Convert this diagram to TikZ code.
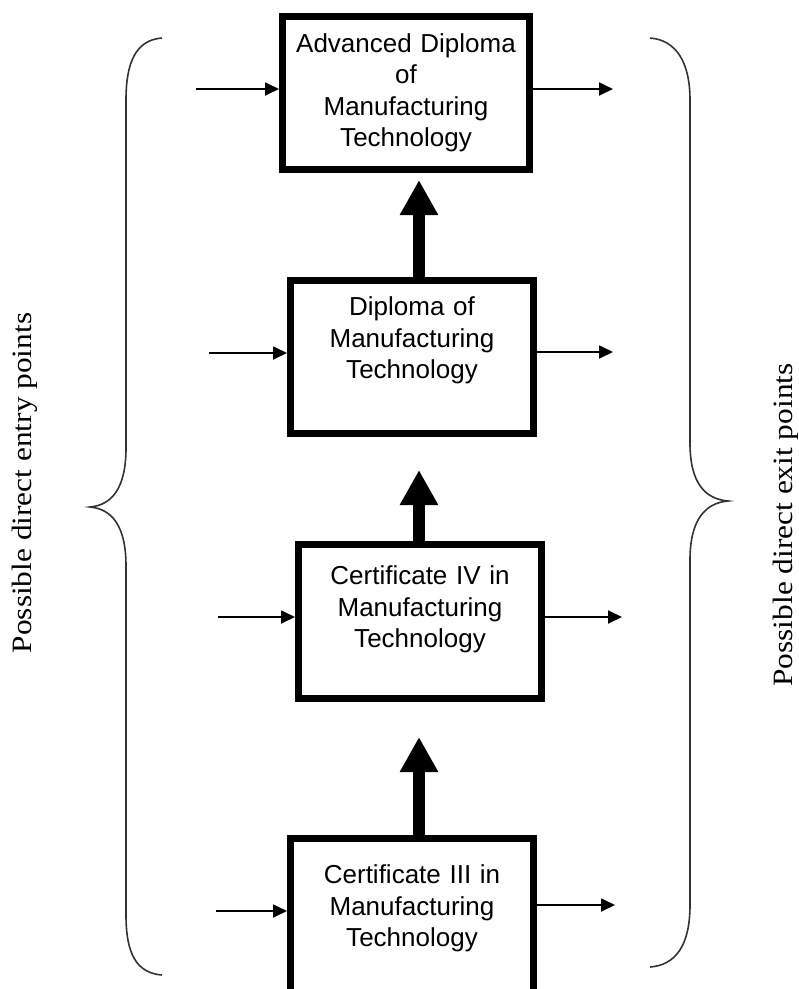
\documentclass[tikz,border=0pt]{standalone}
\usepackage{fontspec}
\setmainfont{Liberation Serif}
\setsansfont{Liberation Sans}
\usetikzlibrary{arrows.meta, calc}

\tikzset{
    stage/.style={draw, line width=7pt, minimum width=243pt, minimum height=153pt,
        inner sep=0pt, text width=226pt, align=center,
        font=\sffamily\fontsize{26}{31.5}\selectfont},
    thinarrow/.style={-{Triangle[length=14pt,width=13pt]}, line width=1.8pt},
    fatarrow/.style={-{Triangle[length=35pt,width=36pt]}, line width=12pt},
    brace/.style={line width=1.6pt, black!80},
    sidelabel/.style={rotate=90, font=\fontsize{28}{30}\selectfont}
}

\begin{document}
\begin{tikzpicture}[x=1pt, y=-1pt]
    \useasboundingbox (0,0) rectangle (799,989);
    % the four qualifications
    \node [stage, minimum width=247pt] (dipadv) at (406,93) {Advanced Diploma\\of\\Manufacturing\\Technology};
    \node [stage, text depth=101pt] (dip) at (412,357) {Diploma of\\Manufacturing\\Technology};
    \node [stage, minimum height=154pt, text depth=92pt] (certiv) at (420,621.5) {Certificate IV in\\Manufacturing\\Technology};
    \node [stage, minimum height=170pt, text depth=98pt] (certiii) at (412,923.5) {Certificate III in\\Manufacturing\\Technology};
    % pathway
    \coordinate (spine) at (419,0);
    \draw [fatarrow, shorten >=35pt] (certiii.north -| spine) -- (certiv.south -| spine);
    \draw [fatarrow, shorten >=33pt] (certiv.north -| spine) -- (dip.south -| spine);
    \draw [fatarrow, shorten >=7pt] (dip.north -| spine) -- (dipadv.south -| spine);
    % entry and exit points
    \foreach \s/\xa/\ya/\xb/\yb in {dipadv/196/89/613/89, dip/209/353/613/352,
        certiv/218/617/622/617, certiii/216/911/615/905} {
        \coordinate (in-\s) at (\xa,\ya);
        \coordinate (out-\s) at (\xb,\yb);
        \draw [thinarrow] (in-\s) -- (in-\s -| \s.west);
        \draw [thinarrow] (\s.east |- out-\s) -- (out-\s);
    }
    % braces
    \draw [brace] (162,38) .. controls (136,40) and (126,62) .. (126,100) -- (126,448)
        .. controls (126,488) and (112,505) .. (90,507)
        .. controls (112,509) and (126,526) .. (126,566) -- (126,915)
        .. controls (126,953) and (136,973) .. (162,975);
    \draw [brace] (650,38) .. controls (676,40) and (690,62) .. (690,100) -- (690,443)
        .. controls (690,483) and (705,499) .. (728,501)
        .. controls (705,503) and (690,520) .. (690,560) -- (690,905)
        .. controls (690,945) and (676,965) .. (650,967);
    \node [sidelabel] (entry) at (25,483) {\scalebox{1.12}[1]{Possible direct entry points}};
    \node [sidelabel] (exit) at (786,525) {\scalebox{1.12}[1]{Possible direct exit points}};
\end{tikzpicture}
\end{document}
